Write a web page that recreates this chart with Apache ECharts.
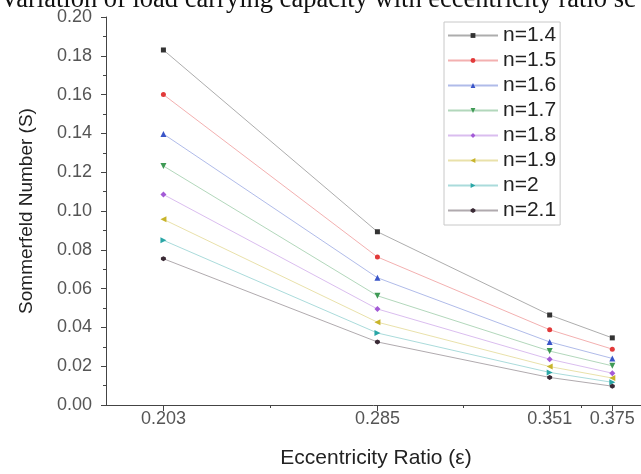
<!DOCTYPE html>
<html><head><meta charset="utf-8">
<script src="https://cdn.jsdelivr.net/npm/echarts@6/dist/echarts.min.js"></script>
<style>html,body{margin:0;padding:0;background:#fff}#c{width:641px;height:474px}</style>
</head><body><div id="c"></div>
<script>
const eccentricity = [0.203, 0.285, 0.351, 0.375];
const seriesNames = ['n=1.4','n=1.5','n=1.6','n=1.7','n=1.8','n=1.9','n=2','n=2.1'];
const s14 = [0.183, 0.0893, 0.0464, 0.0346];
const s15 = [0.160, 0.0763, 0.0388, 0.0288];
const s16 = [0.1397, 0.0656, 0.0325, 0.0240];
const s17 = [0.1232, 0.0563, 0.0278, 0.0202];
const s18 = [0.1085, 0.0495, 0.0236, 0.0164];
const s19 = [0.0957, 0.0427, 0.0198, 0.0139];
const s20 = [0.0849, 0.0371, 0.0168, 0.0117];
const s21 = [0.0754, 0.0325, 0.0142, 0.0097];
const xTickValues = [0.203, 0.285, 0.351, 0.375];
const xMinorTickValues = [0.244, 0.318, 0.363];
const titleText = 'Variation of load carrying capacity with eccentricity ratio sc';

const allValues = [s14, s15, s16, s17, s18, s19, s20, s21];
const colors = ['#333333','#e23a3a','#3a55c8','#3f9a55','#a35ad6','#c8b42a','#2aa6a6','#3a2a35'];
const hexPath = 'path://M5,0 L10,3 L10,8 L5,11 L0,8 L0,3 Z';
const symbols = ['rect','circle','triangle','triangle','diamond','triangle','triangle',hexPath];
const rotations = [0,0,0,180,0,90,-90,0];
const sizes = [5,5,6,6,6,6,6,5];
const FONT = 'Liberation Sans, Arial, sans-serif';

const chart = echarts.init(document.getElementById('c'));
chart.setOption({
  animation: false,
  backgroundColor: '#fff',
  graphic: [{
    type: 'text', left: 0, top: -13,
    style: { text: titleText, font: '26.5px "Liberation Serif", serif', fill: '#111' }
  }],
  legend: {
    orient: 'vertical', left: 444, top: 22,
    itemWidth: 50, itemHeight: 6, itemGap: 4,
    padding: [3, 4, 4, 3],
    borderColor: '#c8c8c8', borderWidth: 1,
    textStyle: { fontSize: 21, color: '#222', fontFamily: FONT, lineHeight: 21 },
    data: seriesNames
  },
  grid: { left: 106, right: 0, top: 17, bottom: 65 },
  xAxis: [{
    type: 'value', min: 0.181, max: 0.386,
    name: 'Eccentricity Ratio (ε)', nameLocation: 'middle', nameGap: 43,
    nameTextStyle: { fontSize: 21, color: '#222', fontFamily: FONT, padding: [0, 0, 0, 5] },
    axisLine: { show: true, lineStyle: { color: '#444', width: 1 } },
    axisTick: { show: true, inside: false, length: 6, customValues: xTickValues, lineStyle: { color: '#444' } },
    axisLabel: { customValues: xTickValues, fontSize: 18, color: '#555', margin: 5, fontFamily: FONT,
      formatter: v => v.toFixed(3) },
    splitLine: { show: false }
  }, {
    type: 'value', min: 0.181, max: 0.386, position: 'bottom',
    axisLine: { show: false },
    axisTick: { show: true, inside: false, length: 3, customValues: xMinorTickValues, lineStyle: { color: '#444' } },
    axisLabel: { show: false },
    splitLine: { show: false }
  }],
  yAxis: {
    type: 'value', min: 0, max: 0.20, interval: 0.02,
    name: 'Sommerfeld Number (S)', nameLocation: 'middle', nameGap: 70,
    nameTextStyle: { fontSize: 19, color: '#222', fontFamily: FONT },
    axisLine: { show: true, lineStyle: { color: '#444', width: 1 } },
    axisTick: { show: true, inside: false, length: 5, lineStyle: { color: '#444' } },
    minorTick: { show: true, splitNumber: 2, length: 3, lineStyle: { color: '#444' } },
    axisLabel: { fontSize: 18, color: '#555', margin: 14, fontFamily: FONT, formatter: v => v.toFixed(2) },
    splitLine: { show: false }
  },
  series: allValues.map((vals, i) => ({
    name: seriesNames[i], type: 'line', xAxisIndex: 0,
    data: vals.map((v, j) => [eccentricity[j], v]),
    symbol: symbols[i], symbolRotate: rotations[i], symbolSize: sizes[i],
    showAllSymbol: true,
    itemStyle: { color: colors[i] },
    lineStyle: { color: colors[i], width: 1, opacity: 0.4 }
  }))
});
</script></body></html>
